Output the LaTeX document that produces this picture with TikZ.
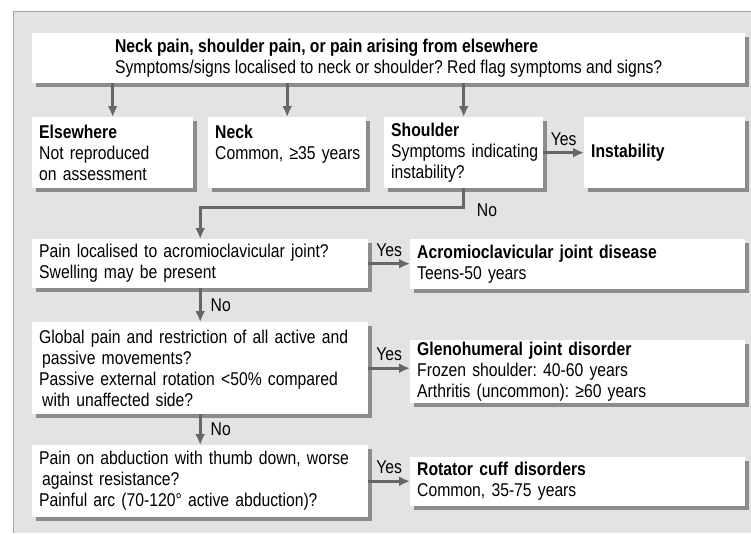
\documentclass[tikz,border=0pt]{standalone}
\usepackage{fontspec}
\setmainfont{Liberation Sans}[FakeStretch=0.85]
\frenchspacing
\usetikzlibrary{arrows.meta}
\usetikzlibrary{shadows}
\definecolor{panelgrey}{HTML}{E3E3E3}
\definecolor{panelline}{HTML}{A3A3A3}
\definecolor{shadegrey}{HTML}{8C8C8C}
\definecolor{arrowgrey}{HTML}{666666}
\tikzset{>={Latex[length=11pt,width=10pt]}}
\tikzstyle{box}=[fill=white,anchor=north west,align=left,inner xsep=7pt,inner ysep=2pt,
                 drop shadow={shadow xshift=4pt,shadow yshift=-4pt,fill=shadegrey,opacity=1}]
\tikzstyle{flow}=[->,draw=arrowgrey,line width=3pt]
\tikzstyle{answer}=[inner sep=1pt,text=black]

\begin{document}
\begin{tikzpicture}[x=1pt,y=-1pt,font=\fontsize{18.5}{21}\selectfont]

        % PANEL
        \useasboundingbox (0,0) rectangle (751,533);
        \fill[panelgrey] (13,11) rectangle (751,533);
        \draw[panelline,line width=1pt] (13,533) -- (13,11) -- (751,11);

        % BOXES
        \node[box,minimum width=713pt,minimum height=50pt] (start) at (32,33)
          {\textbf{Neck pain, shoulder pain, or pain arising from elsewhere}\\
           Symptoms/signs localised to neck or shoulder? Red flag symptoms and signs?};
        \node[box,minimum height=71pt,text width=147pt] (else) at (32,117)
          {\textbf{Elsewhere}\\ Not reproduced\\ on assessment\\[6pt]};
        \node[box,minimum height=71pt,text width=144pt] (neck) at (208,117)
          {\textbf{Neck}\\ \mbox{Common, ≥35 years}\\ \mbox{}\\[6pt]};
        \node[box,minimum height=71pt,text width=145pt] (shoulder) at (384,117)
          {\textbf{Shoulder}\\ \mbox{Symptoms indicating}\\ instability?\\[6pt]};
        \node[box,minimum height=71pt,text width=147pt] (instab) at (584,117)
          {\textbf{Instability}};
        \node[box,minimum height=49pt,text width=322pt] (acq) at (32,239)
          {Pain localised to acromioclavicular joint?\\ Swelling may be present};
        \node[box,minimum height=50pt,text width=321pt] (acd) at (410,239)
          {\textbf{Acromioclavicular joint disease}\\ Teens-50 years};
        \node[box,minimum height=92pt,text width=322pt] (glq) at (32,322)
          {Global pain and restriction of all active and\\
           \hspace*{3pt}passive movements?\\
           Passive external rotation <50\% compared\\
           \hspace*{3pt}with unaffected side?};
        \node[box,minimum height=63pt,text width=321pt] (gld) at (410,340)
          {\textbf{Glenohumeral joint disorder}\\ Frozen shoulder: 40-60 years\\
           Arthritis (uncommon): ≥60 years};
        \node[box,minimum height=72pt,text width=322pt] (rcq) at (32,445)
          {Pain on abduction with thumb down, worse\\
           \hspace*{3pt}against resistance?\\
           Painful arc (70-120° active abduction)?};
        \node[box,minimum height=49pt,text width=321pt] (rcd) at (410,457)
          {\textbf{Rotator cuff disorders}\\ Common, 35-75 years};

        % ARROWS
        \draw[flow] (start.south -| else.north) -- (else.north);
        \draw[flow] (start.south -| neck.north) -- (neck.north);
        \draw[flow] (start.south -| shoulder.north) -- (shoulder.north);
        \draw[flow] (shoulder.east) -- node[answer,above=5pt] (yes1) {Yes} (instab.west);
        \draw[flow] (shoulder.south) -- ++(0,19) coordinate (turn) -| (acq.north);
        \node[answer,anchor=west,xshift=12pt,yshift=-3pt] (no1) at (turn) {No};

        \draw[flow] (acq.east) -- node[answer,above=5pt] (yes2) {Yes} (acq.east -| acd.west);
        \draw[flow] (acq.south) -- node[answer,right=8pt] (no2) {No} (glq.north);
        \draw[flow] (glq.east) -- node[answer,above=5pt] (yes3) {Yes} (glq.east -| gld.west);
        \draw[flow] (glq.south) -- node[answer,right=8pt] (no3) {No} (rcq.north);
        \draw[flow] (rcq.east) -- node[answer,above=5pt] (yes4) {Yes} (rcq.east -| rcd.west);

\end{tikzpicture}
\end{document}
